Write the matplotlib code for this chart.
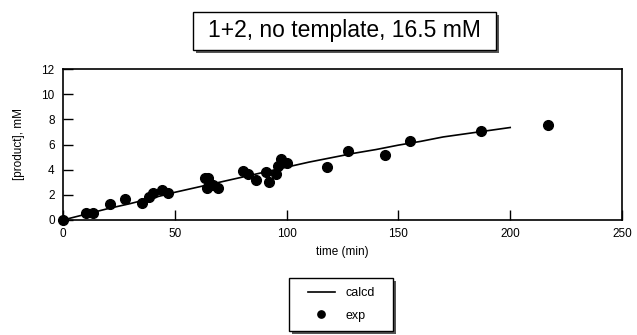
import matplotlib
matplotlib.use("Agg")
import matplotlib.pyplot as plt
from matplotlib.patches import Rectangle

plt.rcParams['font.family'] = ['Liberation Sans', 'DejaVu Sans']

# experimental points
exp_time = [0, 10.1, 13.6, 21, 27.7, 35.2, 38.5, 40.1, 44.4, 47.1, 63.5, 65, 64.5, 67.2, 69.5,
            80.4, 82.6, 86.3, 90.6, 92.3, 95.3, 96.3, 97.4, 100.3,
            118.2, 127.3, 144.1, 155.1, 186.9, 217]
exp_prod = [0, 0.53, 0.58, 1.27, 1.64, 1.32, 1.8, 2.17, 2.38, 2.12, 3.31, 3.31, 2.52, 2.78, 2.52,
            3.9, 3.63, 3.18, 3.79, 3.05, 3.66, 4.29, 4.82, 4.55,
            4.19, 5.48, 5.14, 6.31, 7.1, 7.53]

# calculated curve
calc_time = [0, 10, 20, 30, 40, 50, 60, 70, 80, 90, 100, 110, 120, 130, 140, 150, 160, 170, 180, 190, 200]
calc_prod = [0, 0.45, 0.9, 1.3, 1.75, 2.2, 2.6, 3.0, 3.4, 3.8, 4.2, 4.6, 4.95, 5.3, 5.6, 5.95, 6.25, 6.6, 6.85, 7.1, 7.35]

x_ticks = [0, 50, 100, 150, 200, 250]
y_ticks = [0, 2, 4, 6, 8, 10, 12]

W, H = 637, 335
fig = plt.figure(figsize=(W / 100, H / 100), dpi=100)
ax = fig.add_axes([63 / W, (H - 220) / H, 559 / W, 151 / H])

ax.plot(calc_time, calc_prod, color='black', lw=1.2, label='calcd')
ax.plot(exp_time, exp_prod, 'o', color='black', ms=7.0, label='exp', clip_on=False)

ax.set_xlim(0, 250)
ax.set_ylim(0, 12)
ax.set_xticks(x_ticks)
ax.set_yticks(y_ticks)
ax.tick_params(direction='in', length=7, width=1, labelsize=8.5, pad=6, colors='black')
for s in ax.spines.values():
    s.set_linewidth(1.2)
ax.set_xlabel('time (min)', fontsize=8.5, labelpad=4)
ax.set_ylabel('[product], mM', fontsize=8.5, labelpad=12)

def px2fig(x, y):
    return x / W, 1 - y / H

sh = 3
# title box with shadow
x0, y0, x1, y1 = 193, 12, 496, 50
fig.patches.append(Rectangle(px2fig(x0 + sh, y1 + sh), (x1 - x0) / W, (y1 - y0) / H,
                             transform=fig.transFigure, facecolor='#555555', edgecolor='none', zorder=1))
fig.patches.append(Rectangle(px2fig(x0, y1), (x1 - x0) / W, (y1 - y0) / H,
                             transform=fig.transFigure, facecolor='white', edgecolor='black', lw=1.0, zorder=2))
fig.text((x0 + x1) / 2 / W, 1 - 31 / H, '1+2, no template, 16.5 mM', ha='center', va='center',
         fontsize=16.5, zorder=3)

# legend box with shadow
lx0, ly0, lx1, ly1 = 289, 278, 393, 331
fig.patches.append(Rectangle(px2fig(lx0 + sh, ly1 + sh), (lx1 - lx0) / W, (ly1 - ly0) / H,
                             transform=fig.transFigure, facecolor='#555555', edgecolor='none', zorder=1))
fig.patches.append(Rectangle(px2fig(lx0, ly1), (lx1 - lx0) / W, (ly1 - ly0) / H,
                             transform=fig.transFigure, facecolor='white', edgecolor='black', lw=1.0, zorder=2))
handles, labels = ax.get_legend_handles_labels()
leg = fig.legend(handles, labels, loc='center', bbox_to_anchor=((lx0 + lx1) / 2 / W, 1 - (ly0 + ly1) / 2 / H),
                 frameon=False, fontsize=9, handlelength=2.2, labelspacing=0.8, handletextpad=0.8,
                 markerscale=0.75)
leg.set_zorder(3)

fig.savefig('out.png', dpi=100)
